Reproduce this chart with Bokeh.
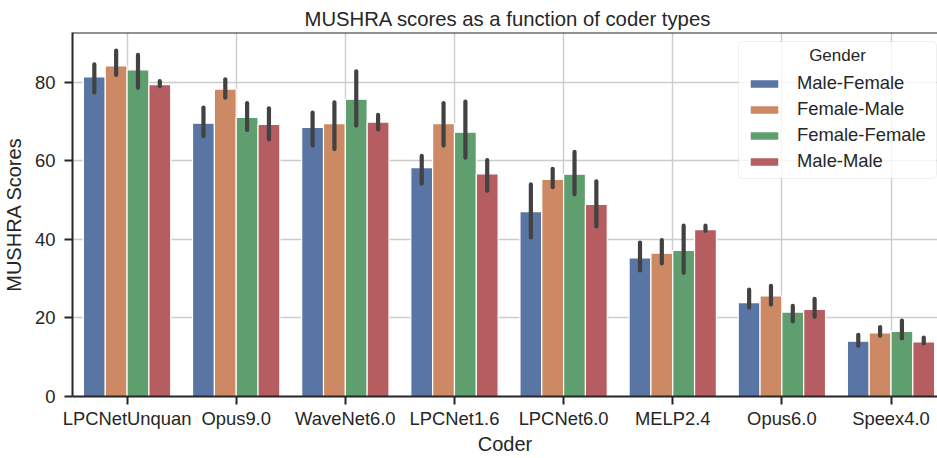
import numpy as np
from bokeh.plotting import figure
from bokeh.models import (ColumnDataSource, Legend, LegendItem, Span, FixedTicker, Range1d,
                          Label, BoxAnnotation)
from bokeh.embed import file_html
from bokeh.resources import INLINE

coders = ["LPCNetUnquan", "Opus9.0", "WaveNet6.0", "LPCNet1.6", "LPCNet6.0", "MELP2.4", "Opus6.0", "Speex4.0"]
genders = ["Male-Female", "Female-Male", "Female-Female", "Male-Male"]
colors = ["#5975A4", "#CC8963", "#5F9E6E", "#B55D60"]

male_female = [81.4, 69.6, 68.5, 58.3, 47.1, 35.3, 23.9, 14.1]
male_female_lo = [77.4, 66.3, 63.9, 54.2, 40.5, 32.1, 22.6, 12.9]
male_female_hi = [84.6, 73.6, 72.3, 61.3, 54.0, 39.2, 27.2, 15.7]

female_male = [84.2, 78.3, 69.5, 69.5, 55.3, 36.5, 25.6, 16.2]
female_male_lo = [81.9, 76.1, 63.0, 63.9, 53.3, 33.9, 23.4, 15.5]
female_male_hi = [88.1, 80.8, 74.9, 74.7, 58.0, 39.8, 28.2, 17.7]

female_female = [83.2, 71.1, 75.7, 67.3, 56.6, 37.2, 21.5, 16.6]
female_female_lo = [78.6, 67.9, 69.0, 60.8, 51.5, 31.5, 19.1, 14.8]
female_female_hi = [87.0, 74.7, 82.8, 75.1, 62.3, 43.5, 23.1, 19.3]

male_male = [79.4, 69.3, 69.9, 56.7, 48.9, 42.5, 22.2, 13.9]
male_male_lo = [79.0, 65.5, 68.0, 52.4, 43.3, 42.2, 20.3, 13.5]
male_male_hi = [80.3, 73.4, 71.7, 60.2, 54.8, 43.5, 24.9, 15.0]

y_ticks = [0, 20, 40, 60, 80]

series = [
    (male_female, male_female_lo, male_female_hi),
    (female_male, female_male_lo, female_male_hi),
    (female_female, female_female_lo, female_female_hi),
    (male_male, male_male_lo, male_male_hi),
]

FONT = "Liberation Sans"
TXT = "#262626"

p = figure(width=937, height=458, output_backend="svg", toolbar_location=None,
           x_range=Range1d(-0.5, 7.426), y_range=Range1d(0, 92.7),
           title="MUSHRA scores as a function of coder types",
           min_border_left=72, min_border_right=0, min_border_top=32, min_border_bottom=62)
p.outline_line_color = None
p.background_fill_color = "white"
p.border_fill_color = "white"

p.title.text_font = FONT
p.title.text_font_size = "20.3px"
p.title.text_font_style = "normal"
p.title.text_color = TXT
p.title.align = "left"
p.title.offset = 232
p.title.standoff = 5

p.xgrid.grid_line_color = "#cccccc"
p.ygrid.grid_line_color = "#cccccc"
p.xgrid.grid_line_width = 1.4
p.ygrid.grid_line_width = 1.4

# legend frame (semi-transparent, under the legend entries)
box = BoxAnnotation(left=666, right=864, top=355, bottom=218,
                    left_units="screen", right_units="screen",
                    top_units="screen", bottom_units="screen",
                    fill_color="white", fill_alpha=0.8,
                    line_color="#cccccc", line_width=1, level="underlay")
if "border_radius" in BoxAnnotation.properties():
    box.border_radius = 4
p.add_layout(box)

idx = np.arange(len(coders))
n = len(genders)
bw = 0.8 / n
items = []
for k, (vals, lo, hi) in enumerate(series):
    xs = idx - 0.4 + bw * (k + 0.5)
    src = ColumnDataSource(dict(x=xs, top=vals))
    r = p.vbar(x="x", top="top", width=bw, bottom=0, source=src,
               fill_color=colors[k], line_color="white", line_width=1.2)
    items.append(LegendItem(label=genders[k], renderers=[r]))
for k, (vals, lo, hi) in enumerate(series):
    xs = idx - 0.4 + bw * (k + 0.5)
    src = ColumnDataSource(dict(x=xs, lo=lo, hi=hi))
    p.segment(x0="x", x1="x", y0="lo", y1="hi", source=src,
              line_color="#424242", line_width=4.2, line_cap="round")

p.add_layout(Span(location=92.7, dimension="width", line_color=TXT, line_width=2))

for ax in (p.xaxis[0], p.yaxis[0]):
    ax.axis_line_color = TXT
    ax.axis_line_width = 2
    ax.major_tick_line_color = TXT
    ax.major_tick_line_width = 2
    ax.major_tick_out = 8
    ax.major_tick_in = 0
    ax.minor_tick_line_color = None
    ax.major_label_text_font = FONT
    ax.major_label_text_font_size = "18.4px"
    ax.major_label_text_color = TXT
    ax.axis_label_text_font = FONT
    ax.axis_label_text_font_size = "20px"
    ax.axis_label_text_font_style = "normal"
    ax.axis_label_text_color = TXT

p.xaxis.ticker = FixedTicker(ticks=list(range(len(coders))))
p.xaxis.major_label_overrides = {i: c for i, c in enumerate(coders)}
p.xaxis.axis_label = "Coder"
p.xaxis.major_label_standoff = 3
p.xaxis.axis_label_standoff = 1
p.yaxis.ticker = FixedTicker(ticks=y_ticks)
p.yaxis.axis_label = "MUSHRA Scores"
p.yaxis.major_label_standoff = 9
p.yaxis.axis_label_standoff = 7

legend = Legend(items=items, location=(674, 224), title=" ")
legend.title_text_font = FONT
legend.title_text_font_size = "17px"
legend.title_text_font_style = "normal"
legend.title_text_color = TXT
legend.label_text_font = FONT
legend.label_text_font_size = "18.4px"
legend.label_text_color = TXT
legend.glyph_width = 36
legend.glyph_height = 11
legend.label_standoff = 15
legend.label_height = 20
legend.label_width = 140
legend.spacing = 4
legend.padding = 7
legend.background_fill_alpha = 0
legend.border_line_color = None
p.add_layout(legend, "center")

legend_title = Label(x=765, y=341, x_units="screen", y_units="screen", text="Gender",
                     text_font=FONT, text_font_size="17px", text_color=TXT,
                     text_align="center", text_baseline="middle")
p.add_layout(legend_title, "center")

open("out.html", "w").write(file_html(p, INLINE))
